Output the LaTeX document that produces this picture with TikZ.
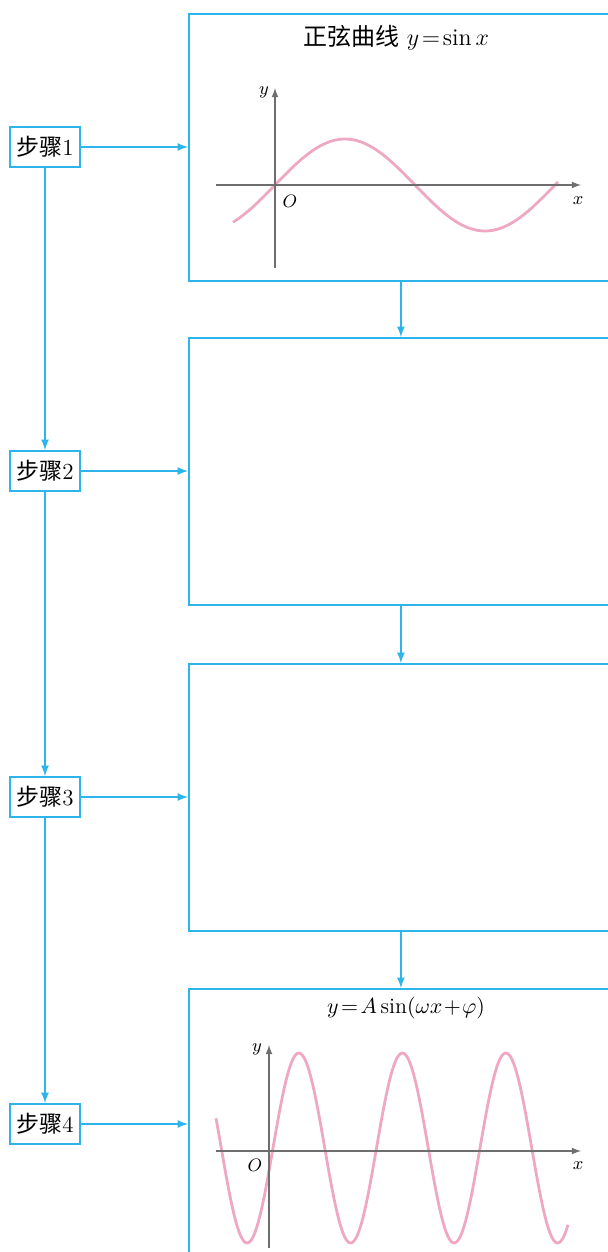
\documentclass[tikz,border=0pt]{standalone}
\usepackage{fontspec}
\newfontfamily\cjk{Noto Sans CJK SC}
\usepackage{tikz}
\usetikzlibrary{arrows, positioning}
\definecolor{flowblue}{RGB}{45,180,235}
\definecolor{curvepink}{RGB}{238,168,196}
\definecolor{axisgray}{RGB}{110,110,110}

\begin{document}
\begin{tikzpicture}[x=0.5pt, y=-0.5pt,
    stepbox/.style={draw=flowblue, line width=0.9pt, minimum width=35pt, minimum height=20pt, inner sep=1pt, font=\fontsize{11.5}{13}\selectfont},
    panel/.style={draw=flowblue, line width=0.9pt, minimum width=212pt, minimum height=133.5pt, anchor=north west, inner sep=0pt},
    link/.style={flowblue, line width=0.8pt, -latex},
    axis/.style={axisgray, line width=0.6pt, -latex},
    curve/.style={curvepink, line width=1.4pt}]
\useasboundingbox (0,0) rectangle (608,1252);
\clip (0,0) rectangle (608,1252);

% Panels
\node[panel] (box1) at (188,13) {};
\node[panel] (box2) at (188,337) {};
\node[panel] (box3) at (188,663) {};
\node[panel] (box4) at (188,988) {};

% Steps
\foreach \i/\y in {1/147, 2/471, 3/797, 4/1124} {
    \node[stepbox] (step\i) at (45,\y) {{\cjk 步骤}\i};
}

% Connectors
\foreach \i/\j in {1/2, 2/3, 3/4} {
    \draw[link] (step\i) -- (step\j);
    \draw[link] (box\i.south) -- (box\j.north);
}
\foreach \i in {1,2,3,4} {
    \draw[link] (step\i.east) -- (step\i.east -| box\i.west);
}

% Sine curve
\node[font=\fontsize{12}{14}\selectfont] (title1) at (396,38) {{\cjk 正弦曲线} $y\!=\!\sin x$};
\draw[curve] plot[domain=233:558, samples=90, smooth] (\x, {185-46*sin((\x-275)/140*180)});
\draw[axis] (216,185) -- (581,185);
\draw[axis] (275,268) -- (275,88);
\node[font=\small] (ylab1) at (264,92) {$y$};
\node[font=\small] (olab1) at (290,201) {$O$};
\node[font=\small] (xlab1) at (578,201) {$x$};

% Transformed curve
\node[font=\fontsize{11}{13}\selectfont] (title4) at (406,1008) {$y\!=\!A\sin(\omega x\!+\!\varphi)$};
\draw[curve] plot[domain=216:568, samples=200, smooth] (\x, {1148-95*sin((\x-273)/103.5*360)});
\draw[axis] (216,1151) -- (581,1151);
\draw[axis] (269,1248) -- (269,1045);
\node[font=\small] (ylab4) at (257,1049) {$y$};
\node[font=\small] (olab4) at (255,1165) {$O$};
\node[font=\small] (xlab4) at (578,1166) {$x$};

\end{tikzpicture}
\end{document}
